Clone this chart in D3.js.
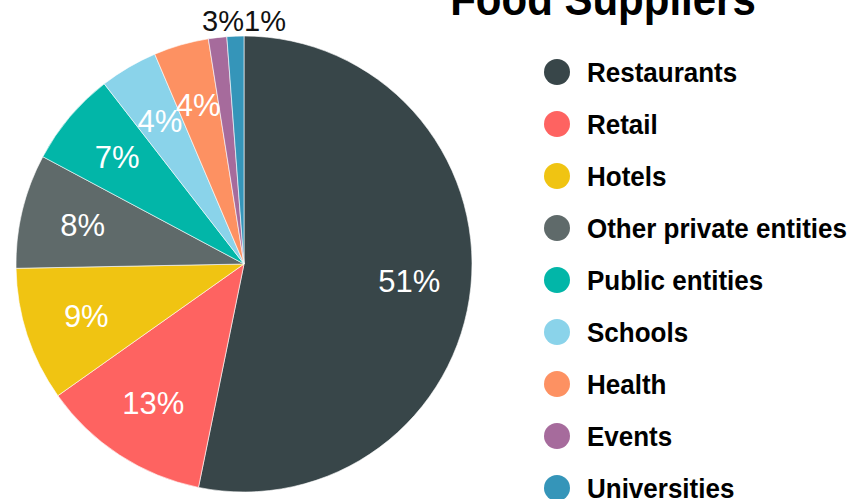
<!DOCTYPE html>
<html>
<head>
<meta charset="utf-8">
<script src="https://cdn.jsdelivr.net/npm/d3@7"></script>
<style>
  body { margin: 0; background: #fff; }
  svg { display: block; font-family: "Liberation Sans", Arial, sans-serif; }
</style>
</head>
<body>
<div id="general"></div>
<script>
const w = 853, h = 499;

// data (share of the pie, in %)
const categories = ["Restaurants", "Retail", "Hotels", "Other private entities", "Public entities", "Schools", "Health", "Events", "Universities"];
const values = [53.2, 12.0, 9.5, 8.1, 6.7, 4.1, 3.9, 1.3, 1.2];
const labels = ["51%", "13%", "9%", "8%", "7%", "4%", "4%", "3%", "1%"];
const colors = ["#384649", "#fe6361", "#f0c412", "#5f6a6a", "#02b6a8", "#8ad3ea", "#fd9162", "#a66b9c", "#3595b9"];
const title = "Food Suppliers";

const cx = 244, cy = 264, r = 228;

const svg = d3.select("#general").append("svg").attr("width", w).attr("height", h);

const color = d3.scaleOrdinal().domain(categories).range(colors);

const pie = d3.pie().sort(null).value(d => d.value);
const data = categories.map((c, i) => ({ name: c, value: values[i], label: labels[i] }));
const arcs = pie(data);

const arc = d3.arc().innerRadius(0).outerRadius(r);
const labelArc = d3.arc().innerRadius(166).outerRadius(166);

const g = svg.append("g").attr("transform", `translate(${cx},${cy})`);

g.selectAll("path")
  .data(arcs)
  .join("path")
    .attr("d", arc)
    .attr("fill", d => color(d.data.name))
    .attr("stroke", "#fff")
    .attr("stroke-width", 0.6);

// labels inside the bigger slices
g.selectAll("text.in")
  .data(arcs.filter(d => d.data.value >= 2))
  .join("text")
    .attr("class", "in")
    .attr("transform", d => `translate(${labelArc.centroid(d)})`)
    .attr("text-anchor", "middle")
    .attr("dy", "0.36em")
    .attr("font-size", 31)
    .attr("fill", "#fff")
    .text(d => d.data.label);

// tiny slices get their label above the pie
const small = arcs.filter(d => d.data.value < 2);
g.selectAll("text.out")
  .data(small)
  .join("text")
    .attr("class", "out")
    .attr("x", 0)
    .attr("y", -r - 5)
    .attr("text-anchor", (d, i) => i === 0 ? "end" : "start")
    .attr("font-size", 29)
    .attr("fill", "#111")
    .text(d => d.data.label);

svg.append("text")
  .attr("transform", "translate(603,15) scale(1,1.08)")
  .attr("text-anchor", "middle")
  .attr("font-size", 42)
  .attr("font-weight", "bold")
  .attr("fill", "#000")
  .text(title);

const legend = svg.append("g").attr("transform", "translate(557,72)");
const y = d3.scalePoint().domain(categories).range([0, 52 * 8]);

const item = legend.selectAll("g")
  .data(categories)
  .join("g")
    .attr("transform", d => `translate(0,${y(d)})`);

item.append("circle")
  .attr("r", 13)
  .attr("fill", d => color(d));

item.append("text")
  .attr("transform", "translate(30,0) scale(1,1.08)")
  .attr("dy", "0.36em")
  .attr("font-size", 26)
  .attr("font-weight", "bold")
  .attr("fill", "#000")
  .text(d => d);
</script>
</body>
</html>
